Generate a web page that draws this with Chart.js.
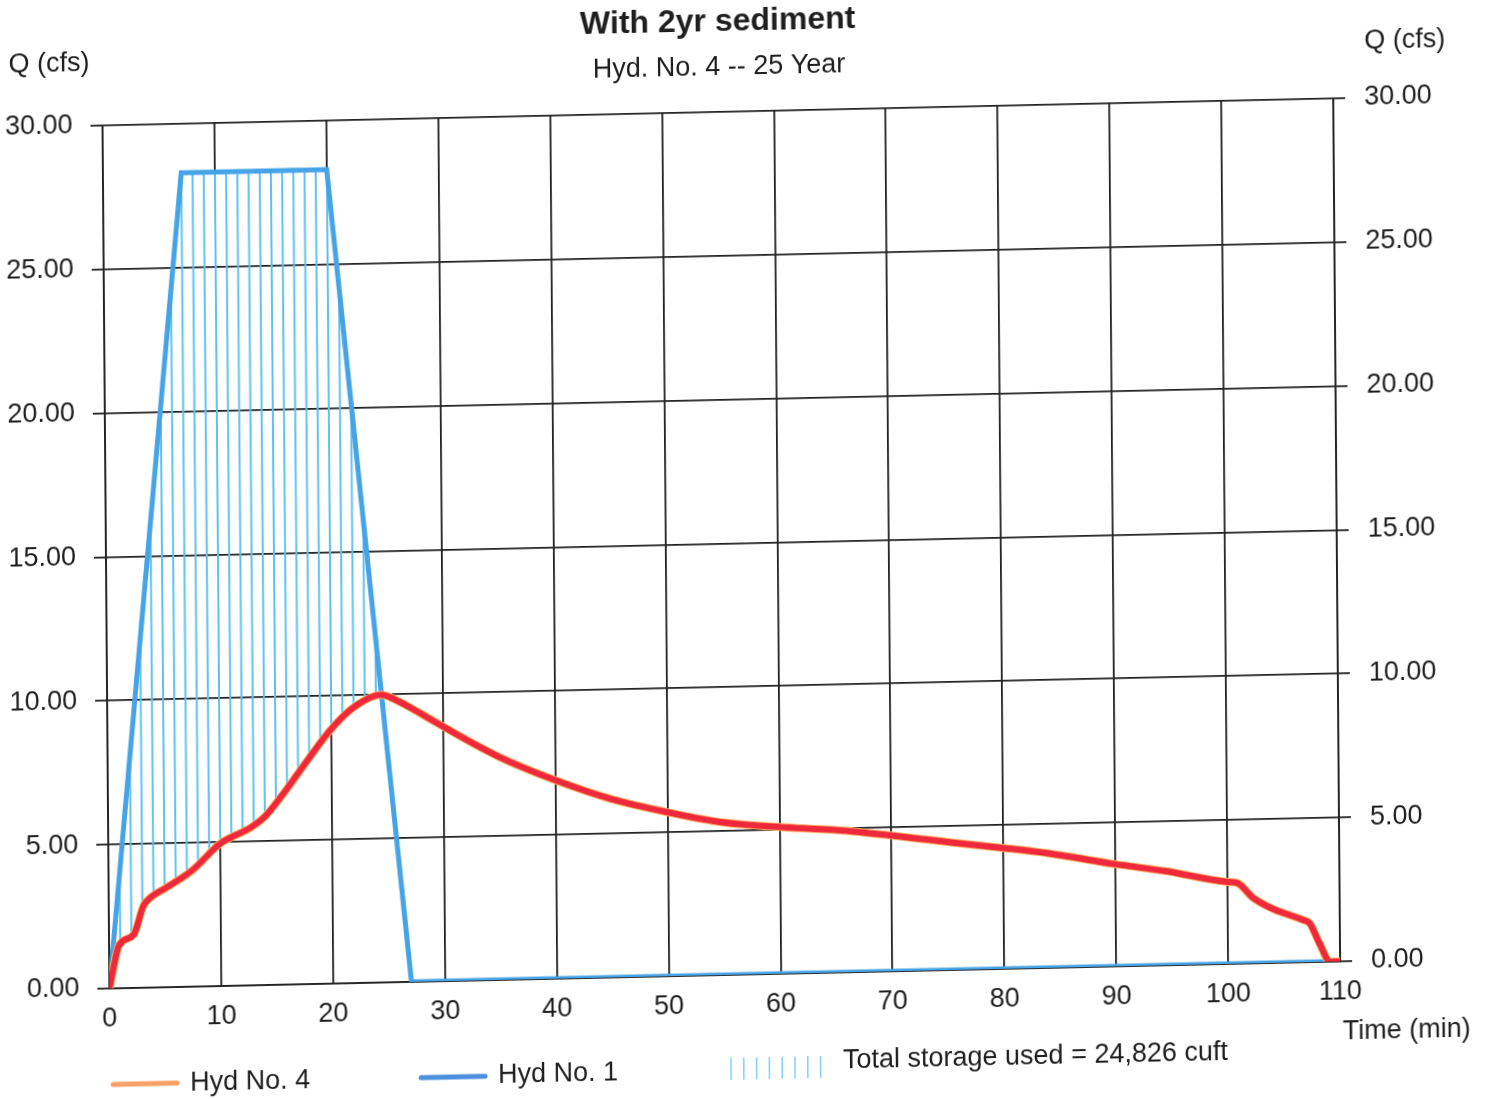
<!DOCTYPE html>
<html>
<head>
<meta charset="utf-8">
<title>With 2yr sediment</title>
<script src="https://cdn.jsdelivr.net/npm/chart.js@4.4.1/dist/chart.umd.min.js"></script>
<style>
  html, body { margin: 0; padding: 0; background: #fff; overflow: hidden; }
  /* the scanned sheet sits slightly askew */
  #sheet {
    position: absolute; left: 0; top: 0; width: 1491px; height: 1099px;
    transform-origin: 721.5px 543.4px;
    transform: matrix(1, -0.022, 0.008, 1, 0, 0);
  }
</style>
</head>
<body>
<div id="sheet"><canvas id="hydChart" width="1491" height="1099"></canvas></div>
<script>
const chartTitle = "With 2yr sediment";
const chartSubtitle = "Hyd. No. 4 -- 25 Year";
const yAxisLabel = "Q (cfs)";
const xAxisLabel = "Time (min)";
const storageLabel = "Total storage used = 24,826 cuft";

const xTicks = [0, 10, 20, 30, 40, 50, 60, 70, 80, 90, 100, 110];
const yTicks = [0, 5, 10, 15, 20, 25, 30];

// Hyd No. 4 (outflow)
const hyd4Time = [0, 0.9, 2.2, 3.1, 3.8, 5.1, 7.5, 10, 12.8, 14, 15.7, 17.9, 19.9, 21.9, 24.5, 25.6,
  28.1, 30, 35, 40, 45, 50, 55, 60, 65, 70, 75, 80, 84, 90, 94.5, 100, 100.9, 102.2, 103.8,
  106.7, 107.3, 108.2, 109.1, 110];
const hyd4Flow = [0, 1.5, 1.85, 2.85, 3.15, 3.45, 4.05, 4.95, 5.5, 5.85, 6.65, 7.8, 8.8, 9.55, 10.0, 9.85,
  9.3, 8.85, 7.75, 6.9, 6.2, 5.7, 5.3, 5.1, 4.95, 4.72, 4.45, 4.2, 3.98, 3.55, 3.27, 2.85, 2.8, 2.3, 1.92,
  1.47, 1.35, 0.62, 0, 0];

// Hyd No. 1 (inflow)
const hyd1Time = [0, 7, 20, 27, 110];
const hyd1Flow = [0, 28.3, 28.3, 0, 0];

const font = "'Liberation Sans', Arial, sans-serif";
const ink = "#1e1e1e";
const gridInk = "#222222";

function toPoints(xs, ys) {
  return xs.map((x, i) => ({ x: x, y: ys[i] }));
}

// vertical hatch used for the storage area (one line per minute)
function makeHatch(ctx, spacing, offset) {
  const c = document.createElement("canvas");
  c.width = Math.round(spacing * 5);
  c.height = 8;
  const g = c.getContext("2d");
  g.strokeStyle = "#5ec1f0";
  g.lineWidth = 2;
  for (let i = 0; i < 5; i++) {
    const x = offset + i * spacing;
    g.beginPath();
    g.moveTo(x, 0);
    g.lineTo(x, 8);
    g.stroke();
  }
  return ctx.createPattern(c, "repeat");
}

const canvas = document.getElementById("hydChart");
const hatch = makeHatch(canvas.getContext("2d"), 11.2, 106 % 11.2);

const pageText = {
  id: "pageText",
  afterDraw(chart) {
    const ctx = chart.ctx;
    ctx.save();
    ctx.fillStyle = ink;
    ctx.textBaseline = "middle";
    ctx.textAlign = "center";
    ctx.font = "bold 32px " + font;
    ctx.fillText(chartTitle, 722, 22);
    ctx.font = "27px " + font;
    ctx.fillText(chartSubtitle, 723, 68);
    ctx.fillText(yAxisLabel, 53, 50);
    ctx.fillText(yAxisLabel, 1409, 56);
    ctx.fillText(xAxisLabel, 1403, 1046);

    // legend
    ctx.lineCap = "round";
    ctx.lineWidth = 5;
    ctx.strokeStyle = "#f7a066";
    ctx.beginPath(); ctx.moveTo(109, 1071); ctx.lineTo(173, 1071); ctx.stroke();
    ctx.strokeStyle = "#4a90dc";
    ctx.beginPath(); ctx.moveTo(417, 1071); ctx.lineTo(481, 1071); ctx.stroke();
    ctx.lineCap = "butt";
    ctx.lineWidth = 1.5;
    ctx.strokeStyle = "#7fd0f4";
    for (let i = 0; i < 8; i++) {
      const x = 727 + i * 12.8;
      ctx.beginPath(); ctx.moveTo(x, 1058); ctx.lineTo(x, 1080); ctx.stroke();
    }
    ctx.textAlign = "left";
    ctx.fillText("Hyd No. 4", 186, 1072);
    ctx.fillText("Hyd No. 1", 494, 1071);
    ctx.fillText(storageLabel, 839, 1064);
    ctx.restore();
  }
};

const tickFont = { family: font, size: 27 };

new Chart(canvas, {
  type: "line",
  data: {
    datasets: [
      {
        label: "Hyd No. 4 (marked)",
        data: toPoints(hyd4Time, hyd4Flow),
        borderColor: "#f0283c",
        borderWidth: 6,
        cubicInterpolationMode: "monotone",
        pointRadius: 0,
        order: 0,
      },
      {
        label: "Hyd No. 4",
        data: toPoints(hyd4Time, hyd4Flow),
        borderColor: "#f9b060",
        borderWidth: 8,
        cubicInterpolationMode: "monotone",
        pointRadius: 0,
        order: 1,
      },
      {
        label: "Hyd No. 1",
        data: toPoints(hyd1Time, hyd1Flow),
        borderColor: "#45a3e6",
        borderWidth: 5,
        pointRadius: 0,
        tension: 0,
        fill: { target: 1, above: hatch, below: "rgba(0,0,0,0)" },
        order: 2,
      },
    ],
  },
  options: {
    responsive: false,
    animation: false,
    layout: { padding: { top: 112, left: 0, right: 0, bottom: 0 } },
    plugins: {
      legend: { display: false },
      tooltip: { enabled: false },
    },
    scales: {
      x: {
        type: "linear",
        min: 0,
        max: 110,
        afterBuildTicks: (s) => { s.ticks = xTicks.map((v) => ({ value: v })); },
        afterFit: (s) => { s.height = 124; },
        ticks: { font: tickFont, color: ink, padding: 14, maxRotation: 0 },
        grid: { color: gridInk, lineWidth: 1.8, drawTicks: false },
        border: { color: gridInk, width: 1.8 },
      },
      y: {
        position: "left",
        min: 0,
        max: 30,
        afterBuildTicks: (s) => { s.ticks = yTicks.map((v) => ({ value: v })); },
        afterFit: (s) => { s.width = 106; },
        ticks: { font: tickFont, color: ink, padding: 18, callback: (v) => v.toFixed(2) },
        grid: { color: gridInk, lineWidth: 1.8, tickLength: 12 },
        border: { color: gridInk, width: 1.8 },
      },
      yRight: {
        position: "right",
        display: true,
        min: 0,
        max: 30,
        afterBuildTicks: (s) => { s.ticks = yTicks.map((v) => ({ value: v })); },
        afterFit: (s) => { s.width = 154; },
        ticks: { font: tickFont, color: ink, padding: 19, callback: (v) => v.toFixed(2) },
        grid: { color: gridInk, lineWidth: 1.8, tickLength: 12, drawOnChartArea: false },
        border: { color: gridInk, width: 1.8 },
      },
    },
  },
  plugins: [pageText],
});
</script>
</body>
</html>
